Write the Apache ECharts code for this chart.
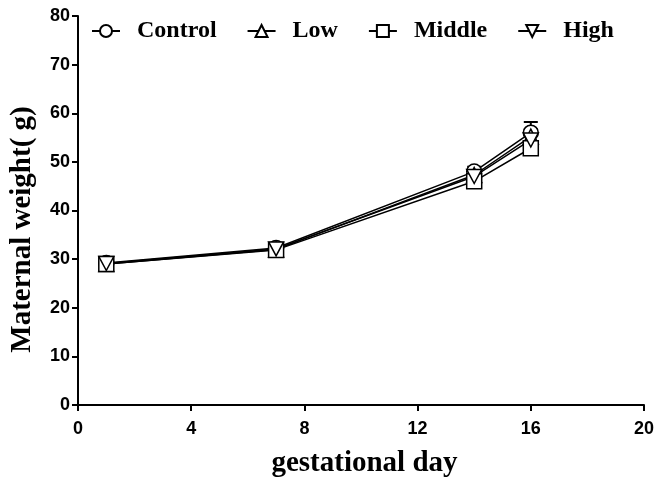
<!DOCTYPE html>
<html>
<head>
<meta charset="utf-8">
<script src="https://cdn.jsdelivr.net/npm/echarts@6/dist/echarts.min.js"></script>
<style>html,body{margin:0;padding:0;background:#fff}#c{width:656px;height:477px}</style>
</head>
<body>
<div id="c"></div>
<script>
var days = [1, 7, 14, 16];
var seriesNames = ['Control', 'Low', 'Middle', 'High'];
var controlVals = [29.2, 32.3, 48.0, 56.0];
var lowVals = [29.0, 32.0, 47.3, 55.2];
var middleVals = [29.0, 31.9, 46.0, 52.8];
var highVals = [29.1, 32.1, 47.0, 54.5];
var controlErr = [0.6, 0.7, 1.0, 2.2];
var lowErr = [0.5, 0.6, 1.0, 1.5];
var middleErr = [0.5, 0.5, 0.9, 1.2];
var highErr = [0.5, 0.6, 0.9, 1.5];
var symbols = ['circle', 'triangle', 'rect', 'path://M0,0 L10,0 L5,9 Z'];

var vals = [controlVals, lowVals, middleVals, highVals];
var errs = [controlErr, lowErr, middleErr, highErr];

var chart = echarts.init(document.getElementById('c'));
var series = [];
vals.forEach(function (v, i) {
  var errData = days.map(function (d, j) { return [d, v[j] - errs[i][j], v[j] + errs[i][j]]; });
  series.push({
    type: 'custom',
    name: seriesNames[i] + '_err',
    z: 1,
    silent: true,
    data: errData,
    renderItem: function (params, api) {
      var x = api.value(0);
      var lo = api.coord([x, api.value(1)]);
      var hi = api.coord([x, api.value(2)]);
      var w = 7;
      var st = { stroke: '#000', lineWidth: 2 };
      return {
        type: 'group',
        children: [
          { type: 'line', shape: { x1: lo[0], y1: lo[1], x2: hi[0], y2: hi[1] }, style: st },
          { type: 'line', shape: { x1: lo[0] - w, y1: lo[1], x2: lo[0] + w, y2: lo[1] }, style: st },
          { type: 'line', shape: { x1: hi[0] - w, y1: hi[1], x2: hi[0] + w, y2: hi[1] }, style: st }
        ]
      };
    }
  });
  series.push({
    type: 'line',
    name: seriesNames[i],
    z: 2,
    data: days.map(function (d, j) { return [d, v[j]]; }),
    symbol: symbols[i],
    symbolSize: i === 3 ? [15, 14] : 15,
    showAllSymbol: true,
    lineStyle: { color: '#000', width: 1.5 },
    itemStyle: { color: '#fff', borderColor: '#000', borderWidth: 1.5 },
    emphasis: { disabled: true }
  });
});

chart.setOption({
  animation: false,
  backgroundColor: '#fff',
  grid: { left: 78, right: 12, top: 16, bottom: 72, outerBoundsMode: 'none', containLabel: false },
  legend: {
    data: seriesNames,
    left: 86,
    top: 14,
    itemWidth: 28,
    itemHeight: 15,
    itemGap: 30,
    textStyle: { fontFamily: 'Liberation Serif', fontWeight: 'bold', fontSize: 24, color: '#000', padding: [0, 0, 0, 12] }
  },
  xAxis: {
    type: 'value', min: 0, max: 20, interval: 4,
    name: 'gestational day', nameLocation: 'middle', nameGap: 44,
    nameTextStyle: { fontFamily: 'Liberation Serif', fontWeight: 'bold', fontSize: 29, color: '#000', padding: [0, 0, 0, 7] },
    axisLine: { lineStyle: { color: '#000', width: 2 } },
    axisTick: { lineStyle: { color: '#000', width: 2 }, length: 6 },
    axisLabel: { fontFamily: 'Liberation Sans', fontWeight: 'bold', fontSize: 18, color: '#000', margin: 15 },
    splitLine: { show: false }
  },
  yAxis: {
    type: 'value', min: 0, max: 80, interval: 10,
    name: 'Maternal weight( g)', nameLocation: 'middle', nameGap: 41, nameRotate: 90,
    nameTextStyle: { fontFamily: 'Liberation Serif', fontWeight: 'bold', fontSize: 29, color: '#000', padding: [0, 38, 0, 0] },
    axisLine: { show: true, lineStyle: { color: '#000', width: 2 } },
    axisTick: { show: true, lineStyle: { color: '#000', width: 2 }, length: 6 },
    axisLabel: { fontFamily: 'Liberation Sans', fontWeight: 'bold', fontSize: 18, color: '#000', margin: 8 },
    splitLine: { show: false }
  },
  series: series
});
</script>
</body>
</html>
